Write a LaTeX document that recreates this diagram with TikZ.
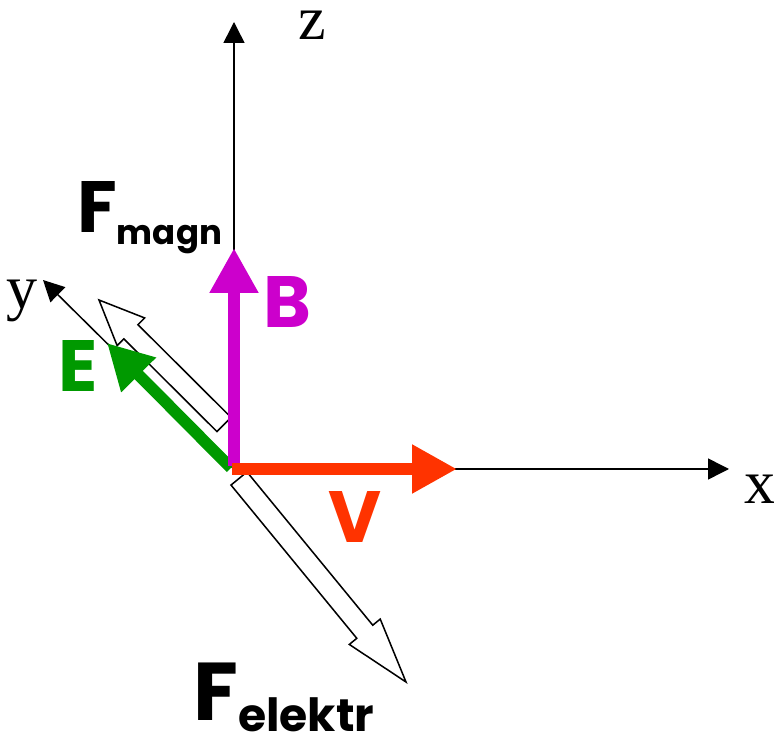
\documentclass[tikz,border=0pt]{standalone}
\usepackage{fontspec}
\setmainfont{Liberation Serif}
\newfontfamily\labelfont{Poppins}
\usetikzlibrary{arrows.meta, calc, positioning}
\definecolor{bcol}{HTML}{CC00CC}
\definecolor{vcol}{HTML}{FF3300}
\definecolor{ecol}{HTML}{009900}
\tikzstyle{axisline} = [line width=1.3pt, -{Triangle[length=6.3mm, width=6.3mm]}]
\tikzstyle{vecarrow} = [line width=3.5mm, -{Triangle[length=13.5mm, width=13.8mm]}]
\tikzstyle{hollow}   = [line width=1.3pt, draw=black, fill=white]
\tikzstyle{axislbl}  = [inner sep=0pt, font=\fontsize{53}{53}\selectfont]
\tikzstyle{veclbl}   = [inner sep=0pt, font=\labelfont\bfseries\fontsize{62}{62}\selectfont]
% hollow force arrow: tail, tip, half shaft, half head, head length
\newcommand{\hollowvec}[5]{%
  \coordinate (hb) at ($(#2)!#5!(#1)$);
  \draw[hollow] ($(#1)!#3!90:(#2)$) -- ($(hb)!#3!90:(#2)$) -- ($(hb)!#4!90:(#2)$) -- (#2)
    -- ($(hb)!#4!-90:(#2)$) -- ($(hb)!#3!-90:(#2)$) -- ($(#1)!#3!-90:(#2)$) -- cycle;
}
\begin{document}
\begin{tikzpicture}[x=0.03cm, y=-0.03cm]
\useasboundingbox (0,0) rectangle (774,739);

% axes
\coordinate (O) at (234,469);
\coordinate (Z) at (234,22);
\coordinate (X) at (729,469);
\coordinate (Y) at (43,280);
\draw[axisline] (O) -- (Z);
\draw[axisline] (O) -- (X);
\draw[axisline] (O) -- (Y);

\node[axislbl] (zlbl) at (312,25) {z};
\node[axislbl] (xlbl) at (760,489) {x};
\node[axislbl] (ylbl) at (22,301) {y};

% forces
\coordinate (Fm0) at (224,424.5);
\coordinate (Fm1) at (99,300);
\coordinate (Fe0) at (239,478.5);
\coordinate (Fe1) at (406,682);
\hollowvec{Fm0}{Fm1}{0.3cm}{0.585cm}{1.35cm}
\hollowvec{Fe0}{Fe1}{0.31cm}{0.6cm}{1.95cm}

\node[veclbl, anchor=base west] (Fmlbl) at (77,233)
  {F\raisebox{-10pt}{\fontsize{29}{29}\selectfont magn}};
\node[veclbl, anchor=base west, font=\labelfont\bfseries\fontsize{70}{70}\selectfont] (Felbl) at (193,720)
  {F\raisebox{-10pt}{\fontsize{39}{39}\selectfont elektr}};

% fields and velocity
\coordinate (E0) at (231,468);
\coordinate (E1) at (107,343);
\coordinate (B0) at (234,466);
\coordinate (B1) at (234,248);
\coordinate (V0) at (232,469);
\coordinate (V1) at (457,469);
\draw[vecarrow, ecol] (E0) -- (E1);
\draw[vecarrow, bcol] (B0) -- (B1);
\draw[vecarrow, vcol] (V0) -- (V1);

\node[veclbl, text=ecol] (Elbl) at (78,366) {E};
\node[veclbl, text=bcol] (Blbl) at (287,302) {B};
\node[veclbl, text=vcol] (Vlbl) at (355,517) {V};

\end{tikzpicture}
\end{document}
